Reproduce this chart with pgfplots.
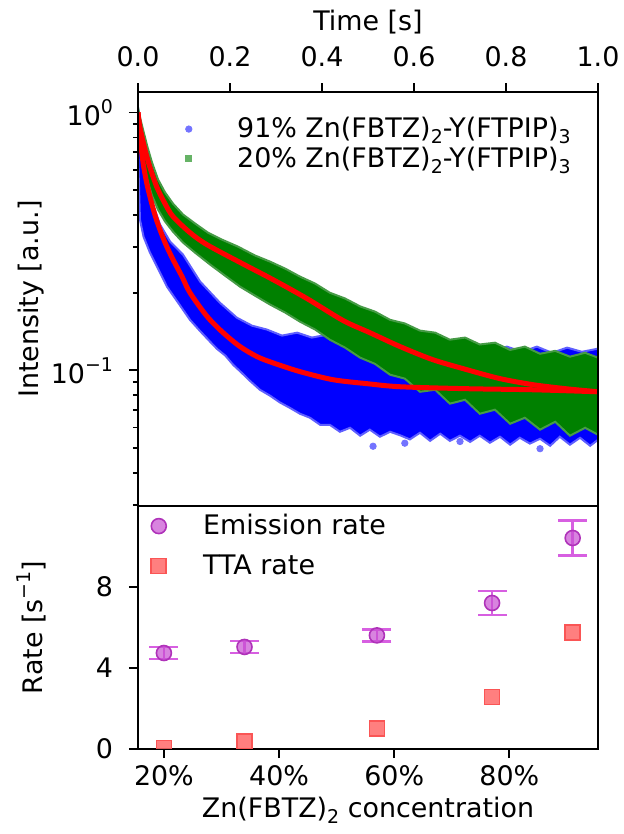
\documentclass[border=0pt]{standalone}
\usepackage{pgfplots}
\pgfplotsset{compat=1.18}
\usepackage{fontspec}
\setmainfont{DejaVu Sans}
\newcommand{\fs}{\fontsize{13.5}{16}\selectfont}
\newcommand{\sups}[1]{\raisebox{0.45em}{\fontsize{9.5}{11}\selectfont #1}}
\newcommand{\subs}[1]{\raisebox{-0.22em}{\fontsize{9.5}{11}\selectfont #1}}
\definecolor{dgreen}{RGB}{0,128,0}
\definecolor{lblue}{RGB}{95,95,255}
\definecolor{lgreen}{RGB}{70,155,70}
\definecolor{emis}{RGB}{200,80,210}
\definecolor{emisedge}{RGB}{175,50,185}
\definecolor{emiserr}{RGB}{215,95,225}
\definecolor{tta}{RGB}{255,105,105}
\definecolor{ttaedge}{RGB}{250,85,85}

\pgfplotsset{
  panel/.style={
    scale only axis, width=230bp,
    axis line style={line width=0.9bp},
    every tick/.style={black, line width=0.9bp},
    tick align=outside,
    major tick length=4.5bp, minor tick length=2.5bp,
    tick label style={font=\fs}, label style={font=\fs},
    yticklabel style={xshift=-4.5bp},
    ylabel style={at={(axis description cs:-0.2326,0.5)}, anchor=center},
  },
}

\begin{document}
\begin{tikzpicture}[font=\fs]
\path[use as bounding box] (-69bp,-42.5bp) rectangle (243bp,374.5bp);

% ---------- lower panel: rates ----------
\begin{axis}[panel,
  at={(0,0)}, anchor=south west, height=121.5bp,
  xmin=15.5, xmax=95.4, ymin=0, ymax=12,
  xtick={20,40,60,80}, xticklabels={20\%,40\%,60\%,80\%},
  ytick={0,4,8}, yticklabels={0,4,8},
  xtick pos=bottom, ytick pos=left,
  xlabel={Zn(FBTZ)\subs{2} concentration},
  xlabel style={at={(axis description cs:0.5,-0.251)}, anchor=center},
  ylabel={Rate [s\sups{−1}]},
  clip marker paths=true,
  legend style={draw=none, fill=none, font=\fs,
    at={(axis description cs:0,1)}, anchor=north west, yshift=-2bp,
    inner sep=0pt, row sep=4.5bp},
  legend cell align=left,
  legend image code/.code={\path (0bp,0bp) (30bp,0bp); \draw[#1] plot coordinates {(10bp,0bp)};},
]
\addplot[only marks, mark=*, mark size=3.75bp,
  mark options={fill=emis, fill opacity=0.7, draw=emisedge, line width=0.8bp},
  error bars/.cd, y dir=both, y explicit,
  error bar style={emiserr, line width=1.2bp},
  error mark options={rotate=90, emiserr, mark size=7.25bp, line width=1.2bp}]
  coordinates {
    (20,4.74) +- (0,0.30)
    (34,5.04) +- (0,0.30)
    (57,5.61) +- (0,0.30)
    (77,7.21) +- (0,0.58)
    (91,10.42) +- (0,0.86)
  };
\addlegendentry{Emission rate}
\addplot[only marks, mark=square*, mark size=3.75bp,
  mark options={fill=tta, fill opacity=0.85, draw=ttaedge, line width=0.8bp}]
  coordinates {(20,0.05) (34,0.38) (57,1.00) (77,2.57) (91,5.76)};
\addlegendentry{TTA rate}
\end{axis}

% ---------- upper panel: decays ----------
\begin{axis}[panel,
  at={(0,121.5bp)}, anchor=south west, height=207bp,
  ymode=log, xmin=0, xmax=1, ymin=0.0298, ymax=1.2,
  xtick={0,0.2,0.4,0.6,0.8,1}, xticklabels={0.0,0.2,0.4,0.6,0.8,1.0},
  xtick pos=top, xticklabel pos=top,
  xticklabel style={yshift=4.5bp},
  ytick={0.1,1}, yticklabels={10\sups{−1},10\sups{0}},
  minor ytick={0.03,0.04,0.05,0.06,0.07,0.08,0.09,0.2,0.3,0.4,0.5,0.6,0.7,0.8,0.9},
  ytick pos=left,
  xlabel={Time [s]},
  xlabel style={at={(axis description cs:0.5,1.168)}, anchor=center},
  ylabel={Intensity [a.u.]},
  axis on top,
  legend style={draw=none, fill=none, font=\fs,
    at={(axis description cs:0,1)}, anchor=north west, yshift=-10.5bp,
    inner sep=0pt, row sep=-1bp},
  legend cell align=left,
  legend image code/.code={\path (0bp,0bp) (47bp,0bp); \draw[#1] plot coordinates {(25bp,0bp)};},
]
% 91% sample, scatter band
\addplot[fill=blue, draw=lblue, line width=1bp, forget plot] coordinates {
  (0,1.045) (0.0043,0.898) (0.0109,0.718) (0.0196,0.574) (0.0326,0.440) (0.0478,0.368)
  (0.0696,0.316) (0.0978,0.281) (0.135,0.221) (0.178,0.183) (0.215,0.160) (0.248,0.149)
  (0.280,0.144) (0.313,0.1364) (0.346,0.140) (0.378,0.134) (0.411,0.1375) (0.443,0.130)
  (0.476,0.134) (0.509,0.127) (0.541,0.130) (0.574,0.1236) (0.607,0.126) (0.639,0.1214)
  (0.672,0.1247) (0.704,0.120) (0.737,0.1247) (0.770,0.119) (0.802,0.1236) (0.835,0.118)
  (0.867,0.1236) (0.900,0.117) (0.933,0.1225) (0.965,0.118) (1.0,0.1214)
  (1.0,0.0538) (0.983,0.0510) (0.961,0.0548) (0.939,0.0515) (0.917,0.0553) (0.896,0.0510)
  (0.874,0.0543) (0.852,0.0520) (0.830,0.0548) (0.809,0.0515) (0.787,0.0553) (0.765,0.0524)
  (0.743,0.0558) (0.722,0.0528) (0.700,0.0558) (0.678,0.0533) (0.657,0.0568) (0.635,0.0533)
  (0.613,0.0573) (0.591,0.0540) (0.570,0.0560) (0.548,0.0578) (0.526,0.0553) (0.504,0.0589)
  (0.483,0.0558) (0.461,0.0599) (0.439,0.0578) (0.417,0.0615) (0.396,0.0615) (0.374,0.0655)
  (0.352,0.0679) (0.330,0.0716) (0.309,0.0750) (0.287,0.0798) (0.265,0.0841) (0.243,0.0912)
  (0.225,0.098) (0.207,0.105) (0.190,0.114) (0.172,0.121) (0.157,0.129) (0.135,0.142)
  (0.113,0.157) (0.090,0.180) (0.063,0.211) (0.045,0.245) (0.026,0.286) (0.012,0.330)
  (0.0043,0.384) (0.002,0.526) (0,0.718)
} -- cycle;
\addplot[only marks, mark=*, mark size=1.6bp, forget plot,
  mark options={draw=blue!55, fill=blue!55}]
  coordinates {(0.511,0.0508) (0.874,0.0497) (0.580,0.0522) (0.700,0.0530)};
% 20% sample, scatter band
\addplot[fill=dgreen, draw=lgreen, line width=1bp, forget plot] coordinates {
  (0,1.045) (0.0043,0.956) (0.0109,0.859) (0.0196,0.745) (0.0304,0.640) (0.0435,0.550)
  (0.0587,0.490) (0.0761,0.443) (0.0978,0.402) (0.124,0.371) (0.152,0.342) (0.183,0.321)
  (0.217,0.302) (0.254,0.279) (0.287,0.264) (0.320,0.248) (0.352,0.231) (0.385,0.217)
  (0.417,0.200) (0.450,0.190) (0.483,0.177) (0.515,0.169) (0.548,0.157) (0.580,0.152)
  (0.613,0.1426) (0.646,0.140) (0.678,0.1315) (0.711,0.134) (0.743,0.126) (0.776,0.128)
  (0.809,0.120) (0.841,0.1236) (0.874,0.116) (0.907,0.119) (0.939,0.113) (0.972,0.117)
  (1.0,0.112)
  (1.0,0.0563) (0.972,0.0599) (0.939,0.0558) (0.907,0.0632) (0.874,0.0589) (0.841,0.0655)
  (0.809,0.0621) (0.776,0.0704) (0.743,0.0679) (0.711,0.0769) (0.678,0.0743) (0.646,0.0841)
  (0.613,0.0826) (0.580,0.0929) (0.548,0.0962) (0.515,0.106) (0.483,0.112) (0.450,0.1225)
  (0.417,0.1315) (0.385,0.144) (0.352,0.1545) (0.320,0.1675) (0.287,0.180) (0.254,0.195)
  (0.222,0.211) (0.189,0.233) (0.157,0.257) (0.124,0.286) (0.0978,0.313) (0.0761,0.345)
  (0.0587,0.378) (0.0435,0.420) (0.0304,0.476) (0.0196,0.550) (0.0109,0.657) (0.0043,0.786)
  (0,0.956)
} -- cycle;
% fits
\addplot[red, line width=2.5bp, smooth, forget plot] coordinates {
  (0,1.0) (0.002,0.898) (0.0043,0.807) (0.0109,0.640) (0.0196,0.526) (0.0304,0.440)
  (0.0413,0.378) (0.0587,0.313) (0.0761,0.269) (0.0957,0.231) (0.113,0.200) (0.150,0.162)
  (0.185,0.140) (0.222,0.1236) (0.259,0.113) (0.293,0.107) (0.352,0.0989) (0.424,0.092)
  (0.498,0.0888) (0.570,0.0864) (0.715,0.0849) (0.859,0.0841) (1.0,0.0826)
};
\addplot[red, line width=2.5bp, smooth, forget plot] coordinates {
  (0,1.0) (0.0043,0.875) (0.0152,0.718) (0.026,0.612) (0.0413,0.512) (0.0587,0.443)
  (0.0761,0.395) (0.113,0.342) (0.150,0.307) (0.222,0.262) (0.293,0.225) (0.367,0.190)
  (0.446,0.156) (0.504,0.140) (0.570,0.1236) (0.641,0.110) (0.715,0.1006) (0.787,0.0929)
  (0.859,0.088) (0.930,0.0849) (1.0,0.0826)
};
\addlegendimage{only marks, mark=*, mark size=1.6bp, mark options={draw=blue!55, fill=blue!55}}
\addlegendentry{91\% Zn(FBTZ)\subs{2}-Y(FTPIP)\subs{3}}
\addlegendimage{only marks, mark=square*, mark size=1.5bp, mark options={draw=dgreen!60, fill=dgreen!60}}
\addlegendentry{20\% Zn(FBTZ)\subs{2}-Y(FTPIP)\subs{3}}
\end{axis}
\end{tikzpicture}
\end{document}
